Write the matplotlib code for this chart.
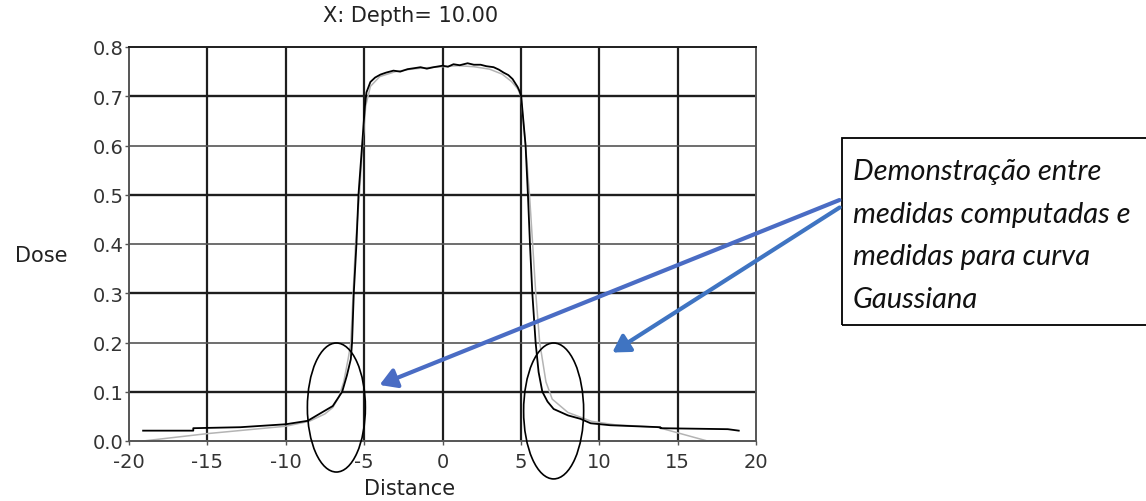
import matplotlib
matplotlib.use("Agg")
import matplotlib.pyplot as plt
from matplotlib.patches import Ellipse, Rectangle, FancyArrowPatch

plt.rcParams["axes.unicode_minus"] = False

# measured profile (black)
meas_x = [-19.1, -15.9, -15.9, -12.9, -10.0, -8.6, -7.0, -6.4, -6.1, -5.85, -5.77,
          -5.66, -5.49, -5.36, -5.13, -4.95, -4.85, -4.6, -4.3, -3.96, -3.6, -3.13,
          -2.7, -2.23, -1.8, -1.4, -1.0, -0.57, 0.0, 0.35, 0.7, 1.1, 1.6, 2.0, 2.43,
          2.8, 3.26, 3.6, 3.9, 4.2, 4.47, 4.79, 4.92, 5.02, 5.3, 5.45, 5.58, 5.73,
          5.94, 6.13, 6.37, 6.7, 7.09, 8.0, 8.8, 9.45, 10.7, 13.9, 13.9, 18.2, 18.9]
meas_y = [0.021, 0.021, 0.026, 0.028, 0.034, 0.041, 0.071, 0.10, 0.133, 0.166, 0.20,
          0.30, 0.40, 0.50, 0.60, 0.68, 0.708, 0.729, 0.738, 0.744, 0.748, 0.752,
          0.750, 0.755, 0.757, 0.759, 0.756, 0.759, 0.762, 0.760, 0.765, 0.763, 0.767,
          0.764, 0.764, 0.761, 0.759, 0.754, 0.748, 0.743, 0.735, 0.719, 0.710, 0.70,
          0.60, 0.50, 0.40, 0.30, 0.20, 0.14, 0.10, 0.08, 0.065, 0.052, 0.045, 0.036,
          0.032, 0.028, 0.026, 0.024, 0.021]

# computed profile (gray)
comp_x = [-19.1, -15.0, -12.0, -10.0, -8.5, -7.5, -7.0, -6.6, -6.3, -6.0, -5.85,
          -5.7, -5.55, -5.3, -5.1, -4.9, -4.6, -4.0, -3.0, -2.0, -1.0, 0.0, 1.0, 2.0,
          3.0, 3.8, 4.4, 4.8, 5.0, 5.3, 5.55, 5.75, 5.95, 6.2, 6.6, 7.0, 8.0, 9.5,
          11.0, 13.7, 16.9, 19.0]
comp_y = [0.0, 0.015, 0.024, 0.030, 0.040, 0.055, 0.068, 0.09, 0.12, 0.17, 0.20,
          0.30, 0.40, 0.50, 0.60, 0.68, 0.72, 0.74, 0.75, 0.755, 0.758, 0.760, 0.762,
          0.760, 0.755, 0.745, 0.730, 0.715, 0.70, 0.60, 0.50, 0.40, 0.30, 0.20, 0.12,
          0.085, 0.058, 0.040, 0.033, 0.028, 0.0, 0.0]

x_ticks = [-20, -15, -10, -5, 0, 5, 10, 15, 20]
y_ticks = [0.0, 0.1, 0.2, 0.3, 0.4, 0.5, 0.6, 0.7, 0.8]
y_ticklabels = ["0.0", "0.1", "0.2", "0.3", "0.4", "0.5", "0.6", "0.7", "0.8"]

W, H = 1146, 502
fig = plt.figure(figsize=(W / 100, H / 100), dpi=100)
ax = fig.add_axes([129 / W, 1 - 442 / H, (756 - 129) / W, (442 - 48) / H])

ax.set_xlim(-20, 20)
ax.set_ylim(0, 0.8)

# grid: alternating dark / lighter horizontal lines like the original
for x in x_ticks[1:-1]:
    ax.axvline(x, color="#1e1e1e", lw=1.6, zorder=1)
for i, y in enumerate(y_ticks[1:-1]):
    dark = (i % 2 == 0)
    ax.axhline(y, color="#1e1e1e" if dark else "#555555",
               lw=1.7 if dark else 1.2, zorder=1)

ax.plot(comp_x, comp_y, color="#b4b4b4", lw=1.1, zorder=2)
ax.plot(meas_x, meas_y, color="black", lw=1.3, zorder=3)

for sp in ax.spines.values():
    sp.set_color("#555555")
    sp.set_linewidth(1.4)
ax.spines["top"].set_color("#1e1e1e")

ax.set_xticks(x_ticks)
ax.set_yticks(y_ticks)
ax.set_yticklabels(y_ticklabels)
ax.tick_params(length=3, width=1, color="#555555", labelsize=14,
               labelcolor="#333333", pad=1)
ax.tick_params(axis="x", pad=5)

# highlight ellipses
for cx, cy, w, h in [(-6.77, 0.068, 3.7, 0.262), (7.09, 0.061, 3.83, 0.276)]:
    ax.add_patch(Ellipse((cx, cy), w, h, fill=False, ec="black", lw=1.2,
                         clip_on=False, zorder=4))

fig.text(411 / W, 1 - 16 / H, "X: Depth= 10.00", ha="center", va="center",
         fontsize=15, color="#222222")
fig.text(41 / W, 1 - 256 / H, "Dose", ha="center", va="center",
         fontsize=15, color="#222222")
fig.text(410 / W, 1 - 489 / H, "Distance", ha="center", va="center",
         fontsize=15, color="#222222")

# annotation box
fig.patches.append(Rectangle((842 / W, 1 - 326 / H), (W - 842) / W + 0.01,
                             (326 - 139) / H, transform=fig.transFigure,
                             fill=False, ec="black", lw=1.3, clip_on=False))
fig.text(853 / W, 1 - 159 / H,
         "Demonstração entre\nmedidas computadas e\nmedidas para curva\nGaussiana",
         ha="left", va="top", fontsize=21, family="Lato", style="italic",
         color="#111111", linespacing=1.79)

arrows = [((842, 200), (377, 387), "#4a6cc4"), ((842, 207), (610, 355), "#3f74c2")]
for (x0, y0), (x1, y1), c in arrows:
    fig.patches.append(FancyArrowPatch((x0 / W, 1 - y0 / H), (x1 / W, 1 - y1 / H),
                                       transform=fig.transFigure,
                                       arrowstyle="-|>,head_length=10,head_width=6",
                                       color=c, lw=3, zorder=5))

fig.savefig("out.png", dpi=100)
